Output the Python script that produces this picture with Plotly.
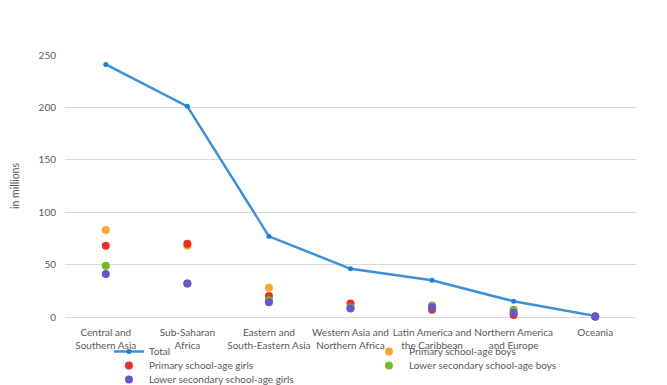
import plotly.graph_objects as go

categories = ["Central and<br>Southern Asia", "Sub-Saharan<br>Africa", "Eastern and<br>South-Eastern Asia",
              "Western Asia and<br>Northern Africa", "Latin America and<br>the Caribbean",
              "Northern America<br>and Europe", "Oceania"]
total = [241, 201, 77, 46, 35, 15, 1]
primary_boys = [83, 68, 28, 9, 9, 4, 0.5]
primary_girls = [68, 70, 20, 13, 7, 2, 0.5]
lower_sec_boys = [49, 32, 16, 9, 11, 7, 0.5]
lower_sec_girls = [41, 32, 14, 8, 9, 4, 0.5]
y_ticks = [0, 50, 100, 150, 200, 250]

font = "Lato, Open Sans, sans-serif"
grey = "#595959"

fig = go.Figure()
fig.add_trace(go.Scatter(x=categories, y=total, name="Total", mode="lines+markers",
                         line=dict(color="#3c8fdb", width=2.5),
                         marker=dict(color="#1f7fd6", size=5), legend="legend"))
fig.add_trace(go.Scatter(x=categories, y=primary_boys, name="Primary school-age boys", mode="markers",
                         marker=dict(color="#fba531", size=8), legend="legend"))
fig.add_trace(go.Scatter(x=categories, y=primary_girls, name="Primary school-age girls", mode="markers",
                         marker=dict(color="#ee2d24", size=8), legend="legend2"))
fig.add_trace(go.Scatter(x=categories, y=lower_sec_boys, name="Lower secondary school-age boys", mode="markers",
                         marker=dict(color="#77b82a", size=8), legend="legend2"))
fig.add_trace(go.Scatter(x=categories, y=lower_sec_girls, name="Lower secondary school-age girls", mode="markers",
                         marker=dict(color="#6656cc", size=8), legend="legend3"))

fig.update_traces(cliponaxis=False)

def leg(y):
    return dict(orientation="h", x=0.077, xanchor="left", y=y, yanchor="top",
                entrywidth=215, entrywidthmode="pixels", tracegroupgap=0,
                font=dict(size=10, color=grey), itemwidth=30,
                bgcolor="rgba(0,0,0,0)")

fig.update_layout(
    width=667, height=385,
    margin=dict(l=57, r=39, t=47, b=76, autoexpand=False),
    paper_bgcolor="white", plot_bgcolor="white",
    font=dict(family=font, size=10, color=grey),
    showlegend=True,
    legend=leg(-0.0763),
    legend2=leg(-0.1298),
    legend3=leg(-0.1832),
    xaxis=dict(showgrid=False, showline=False, ticks="", tickfont=dict(size=10, color=grey),
               tickangle=0, automargin=False, ticklabelstandoff=8,
               range=[-0.5, 6.5], fixedrange=True),
    yaxis=dict(range=[0, 250], tickvals=y_ticks, showgrid=True, gridcolor="#d9d9d9", gridwidth=1,
               zeroline=True, zerolinecolor="#d9d9d9", zerolinewidth=1, automargin=False,
               tickfont=dict(size=10, color=grey), ticks="", ticklen=0, ticklabelstandoff=8,
               title=dict(text="in millions", font=dict(size=10.5, color=grey), standoff=16)),
)

fig.write_html("out.html")
